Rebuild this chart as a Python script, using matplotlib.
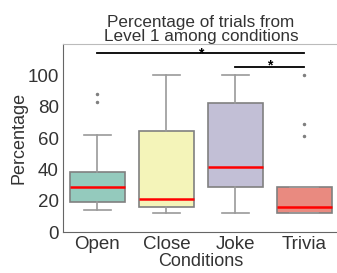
import matplotlib
matplotlib.use('Agg')
import matplotlib.pyplot as plt

plt.rcParams['font.family'] = ['Liberation Sans', 'DejaVu Sans']

conditions = ['Open', 'Close', 'Joke', 'Trivia']
whisker_low = [14, 12, 12, 12]
q1 = [19, 16, 28.5, 12]
median = [28.5, 21, 41.5, 16]
q3 = [38.5, 64.5, 82.5, 28.5]
whisker_high = [62, 100, 100, 28.5]
outliers = [[83, 88], [], [], [61, 69, 100]]
colors = ['#94cabd', '#f4f4b9', '#c2bfd6', '#e98a80']

stats = []
for i, name in enumerate(conditions):
    stats.append({'label': name, 'whislo': whisker_low[i], 'q1': q1[i],
                  'med': median[i], 'q3': q3[i], 'whishi': whisker_high[i],
                  'fliers': outliers[i]})

fig = plt.figure(figsize=(3.37, 2.73), dpi=100)
ax = fig.add_axes([0.187, 0.150, 0.818, 0.689])

bp = ax.bxp(stats, positions=range(4), widths=0.8, patch_artist=True,
            boxprops=dict(edgecolor='#808080', linewidth=1.2),
            whiskerprops=dict(color='#9a9a9a', linewidth=1.2),
            capprops=dict(color='#9a9a9a', linewidth=1.2),
            medianprops=dict(color='red', linewidth=1.8),
            flierprops=dict(marker='o', markersize=1.5, markerfacecolor='#808080',
                            markeredgecolor='#808080'))
for patch, c in zip(bp['boxes'], colors):
    patch.set_facecolor(c)

# significance bars
ax.plot([0, 3], [114, 114], color='black', linewidth=1.3)
ax.text(1.5, 111.5, '*', ha='center', va='baseline', fontsize=10, fontweight='bold')
ax.plot([2, 3], [105.5, 105.5], color='black', linewidth=1.3)
ax.text(2.5, 104, '*', ha='center', va='baseline', fontsize=10, fontweight='bold')

ax.set_xlim(-0.5, 3.5)
ax.set_ylim(0, 120)
ax.set_yticks([0, 20, 40, 60, 80, 100])
ax.tick_params(axis='both', length=0, labelsize=13.5, colors='#333333', pad=3)
ax.set_xticks(range(4))
ax.set_xticklabels(conditions)
for s in ['left', 'bottom']:
    ax.spines[s].set_color('#666666')
for s in ['top', 'right']:
    ax.spines[s].set_color('#bbbbbb')

ax.set_xlabel('Conditions', fontsize=13, color='#333333', labelpad=0)
ax.set_ylabel('Percentage', fontsize=13, color='#333333', labelpad=0)
ax.set_title('Percentage of trials from\nLevel 1 among conditions', fontsize=12.3,
             color='#333333', pad=1, linespacing=0.95)

fig.savefig('out.png', dpi=100)
